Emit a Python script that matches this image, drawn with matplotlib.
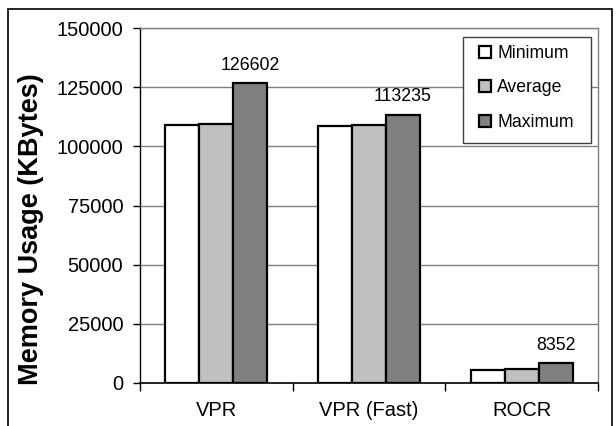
import numpy as np
import matplotlib
matplotlib.use("Agg")
import matplotlib.pyplot as plt
from matplotlib.patches import Rectangle

categories = ["VPR", "VPR (Fast)", "ROCR"]
series_names = ["Minimum", "Average", "Maximum"]
minimum = [109200, 108600, 5700]
average = [109600, 109200, 5800]
maximum = [126602, 113235, 8352]
max_labels = ["126602", "113235", "8352"]
yticks = [0, 25000, 50000, 75000, 100000, 125000, 150000]

colors = ["#FFFFFF", "#C0C0C0", "#808080"]

plt.rcParams['font.family'] = ['Liberation Sans', 'DejaVu Sans']

W, H = 616, 426
fig = plt.figure(figsize=(W / 100, H / 100), dpi=100)
ax = fig.add_axes([140 / W, 1 - 383 / H, (598 - 140) / W, (383 - 28) / H])

x = np.arange(len(categories))
bw = 0.222
handles = []
for i, (vals, c, name) in enumerate(zip([minimum, average, maximum], colors, series_names)):
    b = ax.bar(x + (i - 1) * bw, vals, width=bw, color=c, edgecolor="black",
               linewidth=1.6, label=name, zorder=3)
    handles.append(b)

for xi, v, lab in zip(x, maximum, max_labels):
    ax.annotate(lab, (xi + bw, v), xytext=(0, 7), textcoords="offset points",
                ha="center", va="bottom", fontsize=12.8, zorder=4)

ax.set_xlim(-0.5, 2.5)
ax.set_ylim(0, 150000)
ax.set_yticks(yticks)
ax.set_yticklabels([str(t) for t in yticks], fontsize=14.5)
ax.tick_params(axis="y", direction="out", length=5, width=1, pad=7, color="black")
ax.set_xticks(x)
ax.set_xticklabels(categories, fontsize=14.5)
ax.tick_params(axis="x", which="major", length=0, pad=13)
ax.set_xticks([-0.5, 0.5, 1.5, 2.5], minor=True)
ax.tick_params(axis="x", which="minor", direction="out", length=5.5, width=1, color="black")

ax.yaxis.grid(True, color="#808080", linewidth=1, zorder=0)
ax.set_axisbelow(True)
for s in ["top", "right"]:
    ax.spines[s].set_color("#808080")
    ax.spines[s].set_linewidth(1)
ax.spines["left"].set_color("black")
ax.spines["left"].set_linewidth(1)
ax.spines["bottom"].set_color("black")
ax.spines["bottom"].set_linewidth(1.2)
ax.spines["bottom"].set_zorder(5)

ax.set_ylabel("Memory Usage (KBytes)", fontsize=19.5, fontweight="bold")
ax.yaxis.set_label_coords((44 - 140) / 458, (383 - 229) / 355)

# legend box
ax.add_patch(Rectangle((463 / W, 1 - 143 / H), (591 - 463) / W, (143 - 37) / H,
                       transform=fig.transFigure, facecolor="white",
                       edgecolor="#404040", linewidth=1, zorder=6, clip_on=False))

leg = ax.legend(handles=handles, loc="upper left",
                bbox_to_anchor=(479 / W, 1 - 45 / H), bbox_transform=fig.transFigure,
                frameon=False, fontsize=12.7, handlelength=0.68, handleheight=0.68,
                handletextpad=0.35, labelspacing=0.99, borderpad=0, borderaxespad=0)
leg.set_zorder(10)

fig.patches.append(Rectangle((8 / W, -0.05), (612 - 8) / W, 1.05 - 9 / H,
                             transform=fig.transFigure, fill=False,
                             edgecolor="black", linewidth=1.2))

fig.savefig("out.png", dpi=100)
